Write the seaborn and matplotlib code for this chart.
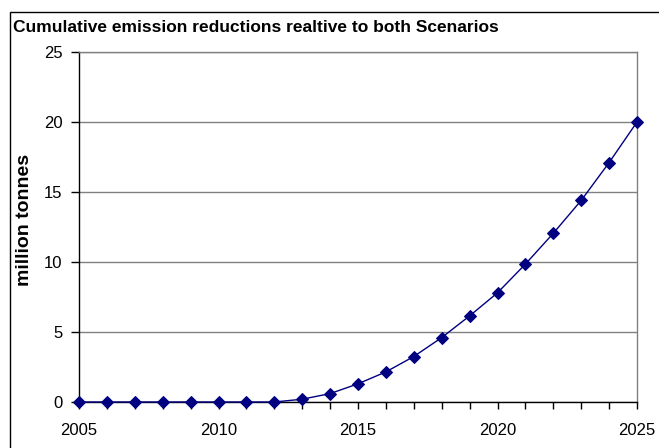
import matplotlib
matplotlib.use("Agg")
import matplotlib.pyplot as plt
import matplotlib.patches as patches
import numpy as np
import pandas as pd
import seaborn as sns

# --- data ---
years = list(range(2005, 2026))
reductions = [0, 0, 0, 0, 0, 0, 0, 0,
              0.2, 0.6, 1.3, 2.15, 3.25, 4.6, 6.15,
              7.8, 9.85, 12.05, 14.4, 17.1, 20.0]
y_ticks = [0, 5, 10, 15, 20, 25]
x_ticks = [2005, 2010, 2015, 2020, 2025]

title = "Cumulative emission reductions realtive to both Scenarios"
ylabel = "million tonnes"

df = pd.DataFrame({"year": years, "reduction": reductions})

sns.set_theme(style="white")
plt.rcParams["font.family"] = ["Liberation Sans", "DejaVu Sans"]

W, H = 659, 448
fig = plt.figure(figsize=(W / 100, H / 100), dpi=100)
fig.patch.set_facecolor("white")

# outer chart frame (clipped at right and bottom like the reference)
frame = patches.Rectangle((10 / W, -0.1), 1.2, 1.1 - 12 / H,
                          transform=fig.transFigure, fill=False,
                          edgecolor="black", linewidth=1.0, clip_on=False)
fig.patches.append(frame)

ax = fig.add_axes([79 / W, 1 - 402 / H, (637 - 79) / W, (402 - 52) / H])

sns.lineplot(data=df, x="year", y="reduction", ax=ax, color="#000080",
             linewidth=1.0, marker="D", markersize=6.5,
             markeredgecolor="#000080", markerfacecolor="#000080",
             clip_on=False, zorder=5)

ax.set_xlim(2005, 2025)
ax.set_ylim(0, 25)
ax.set_yticks(y_ticks)
ax.set_xticks(years)
ax.set_xticklabels([str(y) if y in x_ticks else "" for y in years])

ax.yaxis.grid(True, color="#808080", linewidth=1.0)
ax.xaxis.grid(False)
ax.set_axisbelow(True)

for side in ["left", "bottom"]:
    ax.spines[side].set_color("black")
    ax.spines[side].set_linewidth(1.0)
for side in ["top", "right"]:
    ax.spines[side].set_color("#808080")
    ax.spines[side].set_linewidth(1.0)

ax.tick_params(axis="both", which="major", direction="out", width=1.0,
               color="black", labelsize=12, labelcolor="black",
               bottom=True, left=True)
ax.tick_params(axis="x", length=5, pad=10)
ax.tick_params(axis="y", length=6, pad=6)

ax.set_xlabel("")
ax.set_ylabel(ylabel, fontsize=14, fontweight="bold", color="black")
ax.yaxis.set_label_coords(-0.082, 0.52)

fig.text(13 / W, 1 - 27 / H, title, fontsize=12.5, fontweight="bold",
         ha="left", va="center", color="black")

fig.savefig("out.png", dpi=100)
